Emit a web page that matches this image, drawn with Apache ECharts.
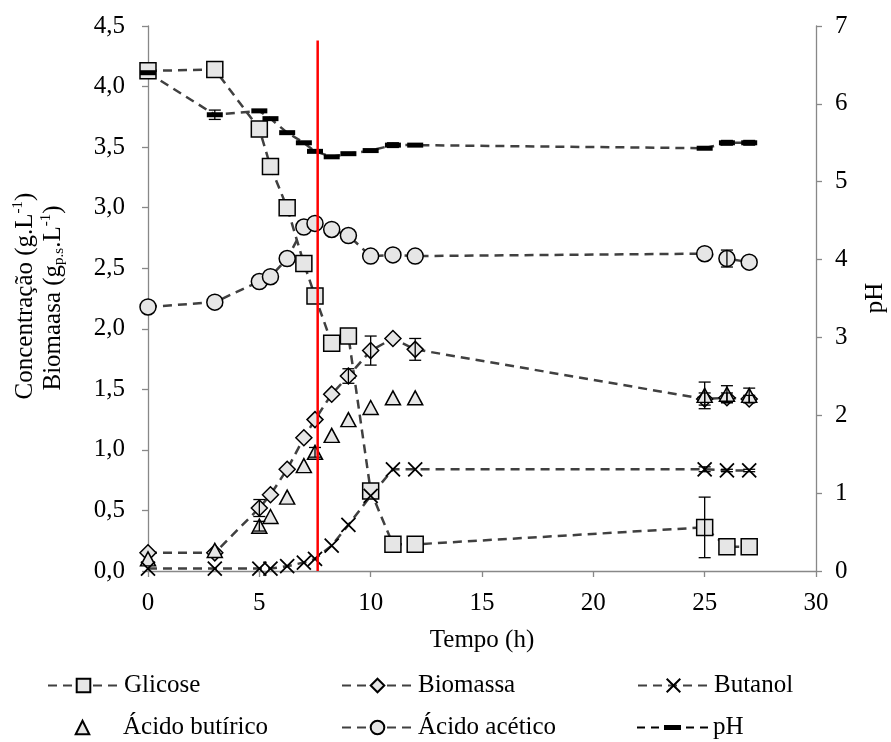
<!DOCTYPE html>
<html><head><meta charset="utf-8">
<script src="https://cdn.jsdelivr.net/npm/echarts@6/dist/echarts.min.js"></script>
<style>html,body{margin:0;padding:0;background:#fff}#c{width:891px;height:742px}</style>
</head><body><div id="c"></div>
<script>
// ---- data ----
const tempo     = [0, 3, 5, 5.5, 6.25, 7, 7.5, 8.25, 9, 10, 11, 12, 25, 26, 27];
const glicose   = [4.13, 4.14, 3.65, 3.34, 3.00, 2.54, 2.27, 1.88, 1.94, 0.66, 0.22, 0.22, 0.36, 0.20, 0.20];
const biomassa  = [0.15, 0.15, 0.52, 0.63, 0.84, 1.10, 1.25, 1.46, 1.61, 1.82, 1.92, 1.83, 1.42, 1.43, 1.42];
const butanol   = [0.02, 0.02, 0.02, 0.02, 0.04, 0.07, 0.10, 0.21, 0.38, 0.62, 0.84, 0.84, 0.84, 0.83, 0.83];
const butirico  = [0.10, 0.17, 0.37, 0.45, 0.61, 0.87, 0.98, 1.12, 1.25, 1.35, 1.43, 1.43, 1.45, 1.46, 1.45];
const acetico   = [2.18, 2.22, 2.39, 2.43, 2.58, 2.84, 2.87, 2.82, 2.77, 2.60, 2.61, 2.60, 2.62, 2.58, 2.55];
const pH        = [6.40, 5.86, 5.91, 5.81, 5.63, 5.50, 5.39, 5.32, 5.36, 5.40, 5.47, 5.47, 5.43, 5.50, 5.50];
// error bars (± values)
const glicoseErr  = [0, 0, 0, 0, 0, 0, 0, 0, 0, 0, 0, 0, 0.25, 0, 0];
const biomassaErr = [0, 0, 0.07, 0, 0, 0, 0, 0, 0.06, 0.12, 0, 0.09, 0.05, 0.04, 0.03];
const butanolErr  = [0, 0, 0, 0, 0, 0, 0, 0, 0, 0, 0, 0, 0.02, 0.01, 0.01];
const butiricoErr = [0, 0, 0.04, 0, 0, 0, 0.04, 0, 0, 0, 0, 0, 0.11, 0.07, 0.06];
const aceticoErr  = [0, 0, 0, 0, 0, 0, 0, 0, 0, 0, 0, 0, 0, 0.07, 0];
const pHErr       = [0, 0.06, 0, 0, 0, 0, 0, 0, 0, 0, 0.03, 0, 0, 0.03, 0.03];
// vertical reference line (time, h) and its extent on left axis
const marcoX = [7.62, 7.62];
const marcoY = [0, 4.38];
// axis ticks
const xTicks  = {min: 0, max: 30, interval: 5};
const yTicks  = {min: 0, max: 4.5, interval: 0.5};
const y2Ticks = {min: 0, max: 7, interval: 1};
const legendNames = ['Glicose', 'Biomassa', 'Butanol', 'Ácido butírico', 'Ácido acético', 'pH'];

// ---- chart ----
const FONT = 'Liberation Serif';
const LINE = '#404040';
const FILL = '#e6e6e6';
const AXIS = '#888888';

function pairs(ys) { return tempo.map((t, i) => [t, ys[i]]); }
function errData(ys, es) {
  const out = [];
  tempo.forEach((t, i) => { if (es[i] > 0) out.push([t, ys[i] - es[i], ys[i] + es[i]]); });
  return out;
}
function errRender(params, api) {
  const x = api.value(0);
  const a = api.coord([x, api.value(1)]);
  const b = api.coord([x, api.value(2)]);
  const w = 6, st = {stroke: '#000', lineWidth: 1.3};
  return {type: 'group', children: [
    {type: 'line', shape: {x1: a[0], y1: a[1], x2: b[0], y2: b[1]}, style: st},
    {type: 'line', shape: {x1: a[0] - w, y1: a[1], x2: a[0] + w, y2: a[1]}, style: st},
    {type: 'line', shape: {x1: b[0] - w, y1: b[1], x2: b[0] + w, y2: b[1]}, style: st}
  ]};
}
function lineSeries(name, ys, symbol, size, extra) {
  return Object.assign({
    name: name, type: 'line', data: pairs(ys), yAxisIndex: 0,
    symbol: symbol, symbolSize: size,
    lineStyle: {color: LINE, width: 2.5, type: [9, 6]},
    itemStyle: {color: FILL, borderColor: '#000', borderWidth: 1.5},
    emphasis: {disabled: true}, z: 3
  }, extra || {});
}

const pos = [[47, 673], [341, 673], [637, 673], [47, 715], [341, 715], [637, 715]];
const legends = legendNames.map((n, i) => {
  const l = {
    data: [n], left: pos[i][0], top: pos[i][1], padding: 0,
    itemWidth: 71, itemHeight: 17,
    textStyle: {fontFamily: FONT, fontSize: 25, color: '#000'},
    selectedMode: false
  };
  if (n === 'pH') {
    l.data = [{name: n, icon: 'path://M0 7H8V9H0Z M14 7H22V9H14Z M27 5.5H44V10.5H27Z M49 7H57V9H49Z M63 7H71V9H63Z'}];
    l.itemHeight = 14;
  }
  if (n === 'Ácido butírico') {
    l.lineStyle = {width: 0, opacity: 0};
  }
  return l;
});

const opt = {
  animation: false,
  backgroundColor: '#fff',
  grid: {left: 148, right: 75, top: 26, bottom: 171},
  legend: legends,
  xAxis: {
    type: 'value', min: xTicks.min, max: xTicks.max, interval: xTicks.interval,
    name: 'Tempo (h)', nameLocation: 'middle', nameGap: 57,
    nameTextStyle: {fontFamily: FONT, fontSize: 25, color: '#000'},
    axisLine: {lineStyle: {color: AXIS, width: 1.3}},
    axisTick: {length: 6, lineStyle: {color: AXIS, width: 1.3}},
    axisLabel: {fontFamily: FONT, fontSize: 25, color: '#000', margin: 20},
    splitLine: {show: false}
  },
  yAxis: [{
    type: 'value', min: yTicks.min, max: yTicks.max, interval: yTicks.interval,
    axisLine: {show: true, lineStyle: {color: AXIS, width: 1.3}},
    axisTick: {show: true, length: 6, lineStyle: {color: AXIS, width: 1.3}},
    axisLabel: {fontFamily: FONT, fontSize: 25, color: '#000', margin: 23,
      formatter: v => v.toFixed(1).replace('.', ',')},
    splitLine: {show: false}
  }, {
    type: 'value', position: 'right', min: y2Ticks.min, max: y2Ticks.max, interval: y2Ticks.interval,
    axisLine: {show: true, lineStyle: {color: AXIS, width: 1.3}},
    axisTick: {show: true, length: 6, lineStyle: {color: AXIS, width: 1.3}},
    axisLabel: {fontFamily: FONT, fontSize: 25, color: '#000', margin: 19},
    splitLine: {show: false}
  }],
  graphic: [
    {type: 'text', x: 25, y: 296, rotation: Math.PI / 2, z: 10,
      style: {text: '{a|Concentração (g.L}{s|-1}{a|)}', align: 'center', verticalAlign: 'middle',
        rich: {a: {fontFamily: FONT, fontSize: 25, fill: '#000', lineHeight: 28},
               s: {fontFamily: FONT, fontSize: 15, fill: '#000', verticalAlign: 'top'}}}},
    {type: 'text', x: 53, y: 298, rotation: Math.PI / 2, z: 10,
      style: {text: '{a|Biomaasa (g}{b|p.s}{a|.L}{s|-1}{a|)}', align: 'center', verticalAlign: 'middle',
        rich: {a: {fontFamily: FONT, fontSize: 25, fill: '#000', lineHeight: 28},
               b: {fontFamily: FONT, fontSize: 15, fill: '#000', verticalAlign: 'bottom'},
               s: {fontFamily: FONT, fontSize: 15, fill: '#000', verticalAlign: 'top'}}}},
    {type: 'text', x: 875, y: 298, rotation: Math.PI / 2, z: 10,
      style: {text: 'pH', align: 'center', verticalAlign: 'middle',
        fontFamily: FONT, fontSize: 25, fill: '#000'}}
  ],
  series: [
    lineSeries('Ácido acético', acetico, 'circle', 16),
    lineSeries('Glicose', glicose, 'rect', 16),
    lineSeries('Biomassa', biomassa, 'diamond', 16),
    lineSeries('Ácido butírico', butirico, 'triangle', [15, 14],
      {lineStyle: {width: 0, opacity: 0}}),
    lineSeries('Butanol', butanol, 'path://M0 0L10 10M10 0L0 10', 14,
      {itemStyle: {color: FILL, borderColor: '#000', borderWidth: 1.8}}),
    lineSeries('pH', pH, 'rect', [16, 5],
      {yAxisIndex: 1, itemStyle: {color: '#000', borderWidth: 0}}),
    {type: 'custom', yAxisIndex: 0, renderItem: errRender, encode: {x: 0, y: [1, 2]}, z: 4, silent: true,
      data: [].concat(errData(glicose, glicoseErr), errData(biomassa, biomassaErr), errData(butanol, butanolErr),
                      errData(butirico, butiricoErr), errData(acetico, aceticoErr))},
    {type: 'custom', yAxisIndex: 1, renderItem: errRender, encode: {x: 0, y: [1, 2]}, z: 4, silent: true,
      data: errData(pH, pHErr)},
    {type: 'line', yAxisIndex: 0, data: marcoX.map((x, i) => [x, marcoY[i]]), symbol: 'none',
      lineStyle: {color: '#ff0000', width: 2.5, type: 'solid'}, z: 6, silent: true}
  ]
};
const chart = echarts.init(document.getElementById('c'), null, {renderer: 'canvas'});
chart.setOption(opt);
</script>
</body></html>
